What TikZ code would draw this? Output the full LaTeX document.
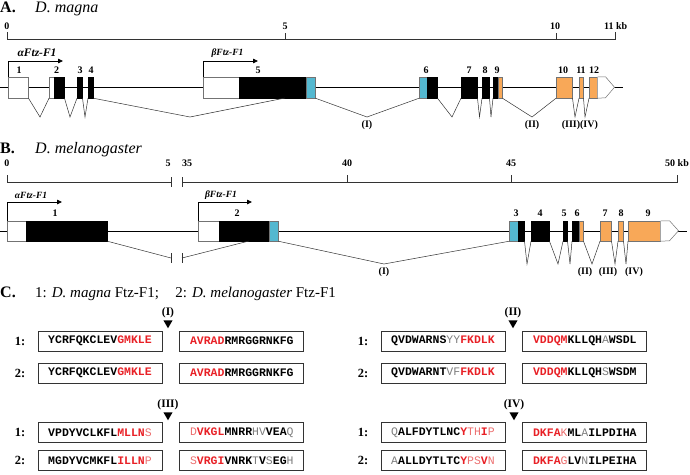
\documentclass[tikz,border=0pt]{standalone}
\usepackage{fontspec}
\setmainfont{Liberation Serif}
\newfontfamily\seqfont{Liberation Mono}
\usepackage{tikz}
\usetikzlibrary{arrows.meta,positioning,shapes.geometric}
\definecolor{dbdblue}{RGB}{84,184,208}
\definecolor{lbdorange}{RGB}{248,168,88}
\definecolor{seqred}{RGB}{232,32,38}
\definecolor{seqpink}{RGB}{236,112,112}
\definecolor{seqgray}{RGB}{125,125,125}
\newcommand\redB[1]{\textcolor{seqred}{#1}}
\newcommand\redL[1]{\textcolor{seqpink}{\mdseries #1}}
\newcommand\grayL[1]{\textcolor{seqgray}{\mdseries #1}}
\tikzset{
    exon/.style ={rectangle, draw=black!55, line width=0.5pt, inner sep=0pt, anchor=west},
    utr/.style ={exon, fill=white},
    cds/.style ={exon, fill=black, draw=black},
    dbd/.style ={exon, fill=dbdblue},
    lbd/.style ={exon, fill=lbdorange},
    tailshape/.style={draw=black!55, line width=0.5pt, fill=white},
    backbone/.style={line width=1.3pt},
    scalebar/.style={line width=0.7pt, draw=black!80},
    splice/.style={line width=0.5pt, draw=black!80},
    tss/.style={line width=0.8pt, -{Triangle[length=5pt,width=4.5pt]}},
    exnum/.style={font=\bfseries\fontsize{10}{10}\selectfont, inner sep=0pt},
    isolab/.style={font=\bfseries\itshape\fontsize{9.5}{10}\selectfont, inner sep=0pt},
    intlab/.style={font=\bfseries\fontsize{10}{10}\selectfont, inner sep=0pt},
    panellab/.style={font=\bfseries\fontsize{16}{16}\selectfont, inner sep=0pt, anchor=base west},
    spname/.style={font=\itshape\fontsize{16}{16}\selectfont, inner sep=0pt, anchor=base west},
    seqbox/.style={rectangle, draw=black!80, line width=0.8pt, minimum width=124pt, minimum height=20pt, inner sep=0pt, font=\seqfont\bfseries\fontsize{11.5}{12}\selectfont},
    rowlab/.style={font=\bfseries\fontsize{12.5}{13}\selectfont, inner sep=0pt},
    cutmark/.style={regular polygon, regular polygon sides=3, shape border rotate=180, fill=black, inner sep=0pt, minimum size=10.5pt},
    cutlab/.style={font=\bfseries\fontsize{11.5}{12}\selectfont, inner sep=0pt}
}
\begin{document}
\begin{tikzpicture}[x=1pt, y=-1pt]
    \useasboundingbox (0,0) rectangle (690,474);

    % ---- A. D. magna ----
    \node[panellab] (pA) at (0,12.7) {A.};
    \node[spname] (spA) at (35,12.7) {D. magna};

    \coordinate (a0) at (7,39);
    \coordinate (a11) at (615,39);
    \draw[scalebar] (7,32) -- (a0) -- (a11) -- (615,32);
    \draw[scalebar] (285,39) -- (285,33);
    \draw[scalebar] (556,39) -- (556,33);
    \node[exnum] (ta0) at (7,26) {0};
    \node[exnum] (ta5) at (285,26) {5};
    \node[exnum] (ta10) at (555,26) {10};
    \node[exnum, anchor=west] (ta11) at (604,26) {11 kb};

    \coordinate (gA1) at (0,87.5);
    \coordinate (gA2) at (623,87.5);
    \draw[backbone] (gA1) -- (gA2);

    \begin{scope}[exon/.append style={minimum height=21pt}]
        \node[utr, minimum width=20pt] (a1) at (8,87.5) {};
        \node[utr, minimum width=5pt] (a2u) at (49,87.5) {};
        \node[cds, minimum width=10pt] (a2) at (54,87.5) {};
        \node[cds, minimum width=5pt] (a3) at (77,87.5) {};
        \node[cds, minimum width=5pt] (a4) at (88,87.5) {};
        \node[utr, minimum width=36pt] (a5u) at (203,87.5) {};
        \node[cds, minimum width=67pt] (a5) at (239,87.5) {};
        \node[dbd, minimum width=9pt] (a5d) at (306,87.5) {};
        \node[dbd, minimum width=8pt] (a6d) at (419,87.5) {};
        \node[cds, minimum width=10pt] (a6) at (427,87.5) {};
        \node[cds, minimum width=16pt] (a7) at (461,87.5) {};
        \node[cds, minimum width=7pt] (a8) at (482,87.5) {};
        \node[cds, minimum width=5pt] (a9) at (493,87.5) {};
        \node[lbd, minimum width=4pt] (a9l) at (498,87.5) {};
        \node[lbd, minimum width=16pt] (a10) at (556,87.5) {};
        \node[lbd, minimum width=4pt] (a11x) at (579,87.5) {};
        \node[lbd, minimum width=8pt] (a12) at (589,87.5) {};
    \end{scope}
    \draw[tailshape] (a12.north east) -- ++(8,0) -- ++(9,10.5) -- ++(-9,10.5) -- (a12.south east);

    % splicing, D. magna
    \coordinate (vA1) at (40,117);
    \coordinate (vA2) at (70,117);
    \coordinate (vA3) at (85,117);
    \coordinate (vA4) at (190,117);
    \coordinate (accA) at (285,98);
    \coordinate (vA5) at (367,117);
    \coordinate (vA6) at (452,117);
    \coordinate (vA7) at (479.5,117);
    \coordinate (vA8) at (491,117);
    \coordinate (vA9) at (532,117);
    \coordinate (vA10) at (575,117);
    \coordinate (vA11) at (585,117);
    \draw[splice] (a1.south east) -- (vA1) -- (a2u.south west);
    \draw[splice] (a2.south east) -- (vA2) -- (a3.south west);
    \draw[splice] (a3.south east) -- (vA3) -- (a4.south west);
    \draw[splice] (a4.south east) -- (vA4) -- (accA);
    \draw[splice] (a5d.south east) -- (vA5) -- (a6d.south west);
    \draw[splice] (a6.south east) -- (vA6) -- (a7.south west);
    \draw[splice] (a7.south east) -- (vA7) -- (a8.south west);
    \draw[splice] (a8.south east) -- (vA8) -- (a9.south west);
    \draw[splice] (a9l.south east) -- (vA9) -- (a10.south west);
    \draw[splice] (a10.south east) -- (vA10) -- (a11x.south west);
    \draw[splice] (a11x.south east) -- (vA11) -- (a12.south west);

    \coordinate (tA1) at (63,61);
    \coordinate (tA2) at (258,61);
    \draw[tss] (a1.north west) |- (tA1);
    \draw[tss] (a5u.north west) |- (tA2);
    \node[isolab, font=\bfseries\itshape\fontsize{11.5}{12}\selectfont] (isoA1) at (37,53) {αFtz-F1};
    \node[isolab] (isoA2) at (227.5,53) {βFtz-F1};

    \node[exnum] (nA1) at (19,70) {1};
    \node[exnum] (nA2) at (56.5,70) {2};
    \node[exnum] (nA3) at (80,70) {3};
    \node[exnum] (nA4) at (91,70) {4};
    \node[exnum] (nA5) at (258,70) {5};
    \node[exnum] (nA6) at (426,70) {6};
    \node[exnum] (nA7) at (469,70) {7};
    \node[exnum] (nA8) at (485,70) {8};
    \node[exnum] (nA9) at (497,70) {9};
    \node[exnum] (nA10) at (563,70) {10};
    \node[exnum] (nA11) at (581,70) {11};
    \node[exnum] (nA12) at (594,70) {12};

    \node[intlab] (iA1) at (367,125) {(I)};
    \node[intlab] (iA2) at (532,125) {(II)};
    \node[intlab] (iA3) at (571,125) {(III)};
    \node[intlab] (iA4) at (589,125) {(IV)};

    % ---- B. D. melanogaster ----
    \node[panellab] (pB) at (0,153) {B.};
    \node[spname] (spB) at (35,153) {D. melanogaster};

    \coordinate (b0) at (7,182);
    \coordinate (b5) at (171,182);
    \coordinate (b35) at (182,182);
    \coordinate (b50) at (677,182);
    \draw[scalebar] (7,175) -- (b0) -- (b5);
    \draw[scalebar] (b35) -- (b50) -- (677,175);
    \draw[scalebar] (171,177) -- (171,187);
    \draw[scalebar] (182,177) -- (182,187);
    \draw[scalebar] (347,182) -- (347,175);
    \draw[scalebar] (511,182) -- (511,175);
    \node[exnum] (tb0) at (7,163) {0};
    \node[exnum] (tb5) at (168,163) {5};
    \node[exnum] (tb35) at (187,163) {35};
    \node[exnum] (tb40) at (347,163) {40};
    \node[exnum] (tb45) at (511,163) {45};
    \node[exnum, anchor=west] (tb50) at (665,163) {50 kb};

    \coordinate (gB1) at (0,231);
    \coordinate (gB2) at (687,231);
    \draw[backbone, line width=1pt] (gB1) -- (gB2);

    \begin{scope}[exon/.append style={minimum height=20pt}]
        \node[utr, minimum width=19pt] (b1u) at (7,231) {};
        \node[cds, minimum width=81pt] (b1) at (26,231) {};
        \node[utr, minimum width=21pt] (b2u) at (198,231) {};
        \node[cds, minimum width=50pt] (b2) at (219,231) {};
        \node[dbd, minimum width=9pt] (b2d) at (269,231) {};
        \node[dbd, minimum width=9pt] (b3d) at (509,231) {};
        \node[cds, minimum width=6pt] (b3) at (518,231) {};
        \node[cds, minimum width=18pt] (b4) at (531,231) {};
        \node[cds, minimum width=4pt] (b5x) at (563,231) {};
        \node[cds, minimum width=7pt] (b6) at (572,231) {};
        \node[lbd, minimum width=4pt] (b6l) at (579,231) {};
        \node[lbd, minimum width=11pt] (b7) at (600,231) {};
        \node[lbd, minimum width=5pt] (b8) at (618,231) {};
        \node[lbd, minimum width=32pt] (b9) at (628,231) {};
    \end{scope}
    \draw[tailshape] (b9.north east) -- ++(9,0) -- ++(9,10) -- ++(-9,10) -- (b9.south east);

    % splicing, D. melanogaster
    \coordinate (bk1) at (171,258);
    \coordinate (bk2) at (182,258);
    \coordinate (accB) at (249,241);
    \coordinate (vB1) at (384,264);
    \coordinate (vB2) at (527,264);
    \coordinate (vB3) at (558,264);
    \coordinate (vB4) at (570,264);
    \coordinate (vB5) at (592,264);
    \coordinate (vB6) at (615,264);
    \coordinate (vB7) at (626,264);
    \draw[splice] (b1.south east) -- (bk1);
    \draw[splice] (bk2) -- (accB);
    \draw[splice] (171,253) -- (171,263);
    \draw[splice] (182,253) -- (182,263);
    \draw[splice] (b2d.south east) -- (vB1) -- (b3d.south west);
    \draw[splice] (b3.south east) -- (vB2) -- (b4.south west);
    \draw[splice] (b4.south east) -- (vB3) -- (b5x.south west);
    \draw[splice] (b5x.south east) -- (vB4) -- (b6.south west);
    \draw[splice] (b6l.south east) -- (vB5) -- (b7.south west);
    \draw[splice] (b7.south east) -- (vB6) -- (b8.south west);
    \draw[splice] (b8.south east) -- (vB7) -- (b9.south west);

    \coordinate (tB1) at (62,202);
    \coordinate (tB2) at (252,202);
    \draw[tss] (b1u.north west) |- (tB1);
    \draw[tss] (b2u.north west) |- (tB2);
    \node[isolab] (isoB1) at (31,195) {αFtz-F1};
    \node[isolab] (isoB2) at (221,195) {βFtz-F1};

    \node[exnum] (nB1) at (55,213) {1};
    \node[exnum] (nB2) at (237,213) {2};
    \node[exnum] (nB3) at (516,213) {3};
    \node[exnum] (nB4) at (540,213) {4};
    \node[exnum] (nB5) at (564,213) {5};
    \node[exnum] (nB6) at (577,213) {6};
    \node[exnum] (nB7) at (605,213) {7};
    \node[exnum] (nB8) at (621,213) {8};
    \node[exnum] (nB9) at (648,213) {9};

    \node[intlab] (iB1) at (384,272) {(I)};
    \node[intlab] (iB2) at (585,272) {(II)};
    \node[intlab] (iB3) at (608,272) {(III)};
    \node[intlab] (iB4) at (634,272) {(IV)};

    % ---- C. alignments ----
    \node[panellab] (pC) at (0,297) {C.};
    \node[anchor=base west, inner sep=0pt, font=\fontsize{15}{15}\selectfont] (legC) at (35,297)
        {1: \textit{D. magna} Ftz-F1;\hspace{1.1em}2: \textit{D. melanogaster} Ftz-F1};

    % junction (I)
    \node[cutmark] (cI) at (168,323) {};
    \node[cutlab, above=2pt of cI] (lI) {(I)};
    \node[seqbox] (sI1a) at (100,341) {YCRFQKCLEV\redB{GMKLE}};
    \node[seqbox, right=17pt of sI1a] (sI1b) {\redB{AVRAD}RMRGGRNKFG};
    \node[seqbox] (sI2a) at (100,373) {YCRFQKCLEV\redB{GMKLE}};
    \node[seqbox, right=17pt of sI2a] (sI2b) {\redB{AVRAD}RMRGGRNKFG};
    \node[rowlab, left=12pt of sI1a] (rI1) {1:};
    \node[rowlab, left=12pt of sI2a] (rI2) {2:};

    % junction (II)
    \node[cutmark] (cII) at (513,323) {};
    \node[cutlab, above=2pt of cII] (lII) {(II)};
    \node[seqbox] (sII1a) at (443,341) {QVDWARNS\grayL{YY}\redB{FKDLK}};
    \node[seqbox, right=17pt of sII1a] (sII1b) {\redB{VDDQM}KLLQH\grayL{A}WSDL};
    \node[seqbox] (sII2a) at (443,373) {QVDWARNT\grayL{VF}\redB{FKDLK}};
    \node[seqbox, right=17pt of sII2a] (sII2b) {\redB{VDDQM}KLLQH\grayL{S}WSDM};
    \node[rowlab, left=12pt of sII1a] (rII1) {1:};
    \node[rowlab, left=12pt of sII2a] (rII2) {2:};

    % junction (III)
    \node[cutmark] (cIII) at (168,415) {};
    \node[cutlab, above=2pt of cIII] (lIII) {(III)};
    \node[seqbox] (sIII1a) at (100,432.5) {VPDYVCLKFL\redB{MLLN}\redL{S}};
    \node[seqbox, right=17pt of sIII1a] (sIII1b) {\redL{D}\redB{VKGL}MNRR\grayL{HV}VEA\grayL{Q}};
    \node[seqbox] (sIII2a) at (100,460.5) {MGDYVCMKFL\redB{ILLN}\redL{P}};
    \node[seqbox, right=17pt of sIII2a] (sIII2b) {\redL{S}\redB{VRGI}VNRK\grayL{T}V\grayL{S}EG\grayL{H}};
    \node[rowlab, left=12pt of sIII1a] (rIII1) {1:};
    \node[rowlab, left=12pt of sIII2a] (rIII2) {2:};

    % junction (IV)
    \node[cutmark] (cIV) at (514,415) {};
    \node[cutlab, above=2pt of cIV] (lIV) {(IV)};
    \node[seqbox] (sIV1a) at (443,432.5) {\grayL{Q}ALFDYTLNC\redB{Y}\redL{TH}\redB{I}\redL{P}};
    \node[seqbox, right=17pt of sIV1a] (sIV1b) {\redB{DKFA}\redL{K}ML\grayL{A}ILPDIHA};
    \node[seqbox] (sIV2a) at (443,460.5) {\grayL{A}ALLDYTLTC\redB{Y}\redL{PS}\redB{V}\redL{N}};
    \node[seqbox, right=17pt of sIV2a] (sIV2b) {\redB{DKFA}\redL{G}LV\grayL{N}ILPEIHA};
    \node[rowlab, left=12pt of sIV1a] (rIV1) {1:};
    \node[rowlab, left=12pt of sIV2a] (rIV2) {2:};
\end{tikzpicture}
\end{document}
